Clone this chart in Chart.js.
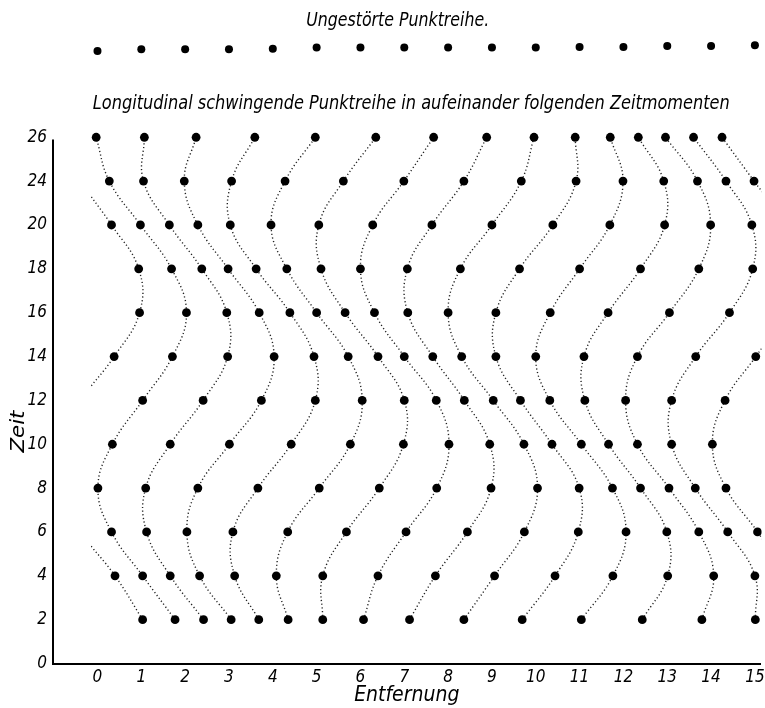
<!DOCTYPE html>
<html lang="de">
<head>
<meta charset="utf-8">
<script src="https://cdn.jsdelivr.net/npm/chart.js@4.4.1/dist/chart.umd.min.js"></script>
<style>
  html, body { margin: 0; padding: 0; background: #fff; }
  canvas { display: block; }
</style>
</head>
<body>
<canvas id="chart" width="765" height="708"></canvas>
<script>
// Zeit-Achse: 13 gleich weit entfernte Zeilen, Beschriftung wie im Original (22 fehlt)
var zeitLabels = ['0', '2', '4', '6', '8', '10', '12', '14', '16', '18', '20', '24', '26'];
var entfernungTicks = [0, 1, 2, 3, 4, 5, 6, 7, 8, 9, 10, 11, 12, 13, 14, 15];
var zeitSchritte = [1, 2, 3, 4, 5, 6, 7, 8, 9, 10, 11, 12];

// Ungestörte Punktreihe (oben)
var ungestoertX = [0, 1, 2, 3, 4, 5, 6, 7, 8, 9, 10, 11, 12, 13, 14, 15];
var ungestoertY = [13.97, 14.01, 14.01, 14.01, 14.02, 14.05, 14.05, 14.05, 14.05, 14.05, 14.05, 14.06, 14.06, 14.08, 14.08, 14.1];

// Bahnen der einzelnen Punkte, Lage bei Zeit 2, 4, ... 26
// (Werte ausserhalb 0..15 sind nicht sichtbar, nur Richtung der Kurve)
var bahn0  = [1.03, 0.40, -0.38, -0.92, -0.92, -0.38, 0.38, 0.96, 0.94, 0.32, -0.38, -0.92];
var bahn1  = [1.77, 1.03, 0.32, 0.01, 0.34, 1.03, 1.71, 2.03, 1.69, 0.98, 0.27, -0.03];
var bahn2  = [2.42, 1.66, 1.12, 1.10, 1.66, 2.41, 2.97, 2.95, 2.38, 1.64, 1.05, 1.07];
var bahn3  = [3.05, 2.33, 2.04, 2.29, 3.01, 3.74, 4.03, 3.69, 2.98, 2.29, 1.98, 2.25];
var bahn4  = [3.68, 3.13, 3.09, 3.66, 4.42, 4.97, 4.94, 4.39, 3.62, 3.03, 3.06, 3.59];
var bahn5  = [4.35, 4.08, 4.34, 5.06, 5.77, 6.04, 5.72, 5.00, 4.32, 3.96, 4.28, 4.97];
var bahn6  = [5.14, 5.14, 5.68, 6.43, 6.98, 7.00, 6.40, 5.65, 5.10, 5.05, 5.61, 6.35];
var bahn7  = [6.07, 6.40, 7.04, 7.74, 8.02, 7.73, 7.00, 6.32, 6.00, 6.28, 6.99, 7.67];
var bahn8  = [7.12, 7.71, 8.44, 8.98, 8.95, 8.37, 7.65, 7.08, 7.07, 7.63, 8.36, 8.88];
var bahn9  = [8.36, 9.06, 9.74, 10.04, 9.73, 9.03, 8.31, 8.00, 8.28, 9.00, 9.67, 9.96];
var bahn10 = [9.69, 10.44, 10.97, 10.99, 10.37, 9.65, 9.09, 9.09, 9.63, 10.39, 10.92, 10.90];
var bahn11 = [11.04, 11.76, 12.06, 11.75, 11.04, 10.32, 10.00, 10.33, 11.00, 11.69, 11.99, 11.70];
var bahn12 = [12.43, 13.01, 12.99, 12.39, 11.66, 11.12, 11.10, 11.65, 12.39, 12.94, 12.92, 12.34];
var bahn13 = [13.79, 14.06, 13.72, 13.04, 12.32, 12.05, 12.32, 13.05, 13.72, 13.99, 13.69, 12.96];
var bahn14 = [15.01, 15.00, 14.38, 13.64, 13.10, 13.10, 13.65, 14.42, 14.95, 14.93, 14.34, 13.60];
var bahn15 = [16.00, 15.71, 15.06, 14.34, 14.03, 14.32, 15.02, 15.71, 16.00, 15.71, 14.98, 14.25];

var bahnen = [bahn0, bahn1, bahn2, bahn3, bahn4, bahn5, bahn6, bahn7,
              bahn8, bahn9, bahn10, bahn11, bahn12, bahn13, bahn14, bahn15];

var titelOben = 'Ungestörte Punktreihe.';
var titelMitte = 'Longitudinal schwingende Punktreihe in aufeinander folgenden Zeitmomenten';
var achseX = 'Entfernung';
var achseY = 'Zeit';

var schrift = "'DejaVu Sans Condensed', 'DejaVu Sans', sans-serif";

function schreibe(ctx, txt, cx, cy, size, breite, winkel) {
  ctx.save();
  ctx.font = 'italic ' + size + 'px ' + schrift;
  var w = ctx.measureText(txt).width;
  ctx.translate(cx, cy);
  if (winkel) ctx.rotate(winkel);
  ctx.scale(breite / w, 1);
  ctx.textAlign = 'center';
  ctx.textBaseline = 'middle';
  ctx.fillStyle = '#000';
  ctx.fillText(txt, 0, 0);
  ctx.restore();
}

var beschriftung = {
  id: 'beschriftung',
  afterDraw: function (chart) {
    var ctx = chart.ctx;
    var x = chart.scales.x;
    var y = chart.scales.y;
    ctx.save();
    // senkrechte Achse nur bis 26
    ctx.strokeStyle = '#000';
    ctx.lineWidth = 2;
    ctx.beginPath();
    ctx.moveTo(chart.chartArea.left, y.getPixelForValue(0) + 1);
    ctx.lineTo(chart.chartArea.left, y.getPixelForValue(11.95));
    ctx.stroke();
    ctx.restore();

    schreibe(ctx, titelOben, x.getPixelForValue(6.85), y.getPixelForValue(14.65), 20, 183);
    schreibe(ctx, titelMitte, x.getPixelForValue(7.16), y.getPixelForValue(12.77), 20, 637);
    schreibe(ctx, achseY, x.getPixelForValue(-1.79), y.getPixelForValue(5.29), 20, 42, -Math.PI / 2);
  }
};

var datasets = bahnen.map(function (b) {
  return {
    data: b.map(function (v, i) { return { x: v, y: zeitSchritte[i] }; }),
    showLine: true,
    borderColor: '#222',
    borderWidth: 1.4,
    borderDash: [1.2, 2.5],
    tension: 0.42,
    pointRadius: 4.4,
    pointBackgroundColor: '#000',
    pointBorderWidth: 0,
    clip: { left: -38, right: 1, top: 0, bottom: 0 }
  };
});

datasets.push({
  data: ungestoertX.map(function (v, i) { return { x: v, y: ungestoertY[i] }; }),
  showLine: false,
  pointRadius: 4,
  pointBackgroundColor: '#000',
  pointBorderWidth: 0
});

function ohnePolster(scale) {
  scale.paddingTop = 0;
  scale.paddingBottom = 0;
  scale.paddingLeft = 0;
  scale.paddingRight = 0;
}

var chart = new Chart(document.getElementById('chart').getContext('2d'), {
  type: 'scatter',
  data: { datasets: datasets },
  options: {
    responsive: false,
    animation: false,
    events: [],
    layout: { padding: { left: 0, right: 4, top: 0, bottom: 0 } },
    elements: { line: { capBezierPoints: false } },
    plugins: {
      legend: { display: false },
      tooltip: { enabled: false }
    },
    scales: {
      x: {
        type: 'linear',
        min: -1.015,
        max: 15.13,
        afterBuildTicks: function (scale) {
          scale.ticks = entfernungTicks.map(function (v) { return { value: v }; });
        },
        afterFit: function (scale) { scale.height = 44.5; ohnePolster(scale); },
        grid: { display: false, drawTicks: false },
        border: { display: true, color: '#000', width: 2 },
        ticks: {
          padding: 4,
          color: '#000',
          font: { family: schrift, size: 17, style: 'italic' }
        },
        title: {
          display: true,
          text: achseX,
          color: '#000',
          padding: { top: 0, bottom: 0 },
          font: { family: schrift, size: 21, style: 'italic' }
        }
      },
      y: {
        type: 'linear',
        min: 0,
        max: 15.03,
        afterBuildTicks: function (scale) {
          scale.ticks = zeitLabels.map(function (l, i) { return { value: i }; });
        },
        afterFit: function (scale) { scale.width = 53; ohnePolster(scale); },
        grid: { display: false, drawTicks: false },
        border: { display: false },
        ticks: {
          padding: 6,
          color: '#000',
          font: { family: schrift, size: 17, style: 'italic' },
          callback: function (v) { return zeitLabels[v]; }
        }
      }
    }
  },
  plugins: [beschriftung]
});
</script>
</body>
</html>
